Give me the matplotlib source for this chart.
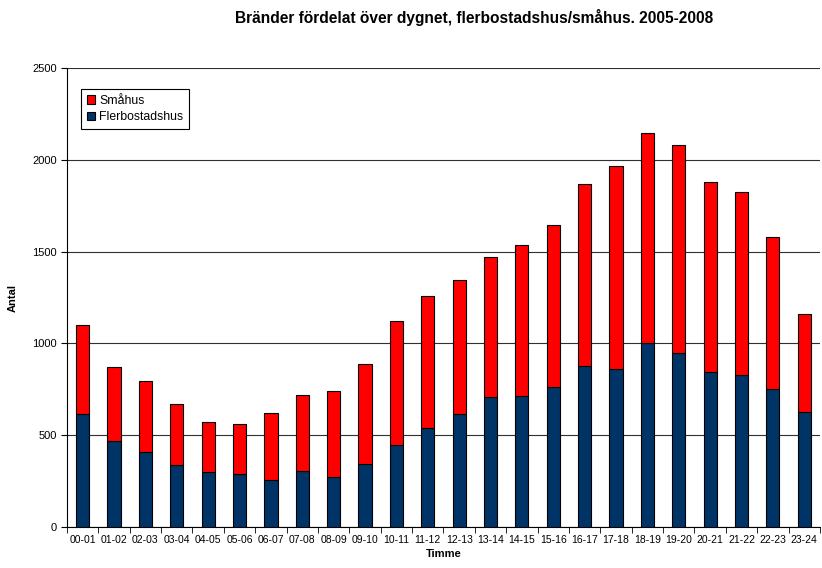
import numpy as np
import matplotlib.pyplot as plt

plt.rcParams['font.family'] = ['Liberation Sans', 'DejaVu Sans']

timmar = ["00-01", "01-02", "02-03", "03-04", "04-05", "05-06", "06-07", "07-08",
          "08-09", "09-10", "10-11", "11-12", "12-13", "13-14", "14-15", "15-16",
          "16-17", "17-18", "18-19", "19-20", "20-21", "21-22", "22-23", "23-24"]
flerbostadshus = [614, 470, 410, 339, 300, 289, 254, 305, 271, 343, 447, 541,
                  614, 708, 714, 765, 875, 859, 1002, 950, 844, 828, 750, 625]
totalt = [1098, 870, 795, 672, 572, 563, 621, 719, 742, 888, 1124, 1260,
          1347, 1469, 1536, 1645, 1867, 1964, 2144, 2081, 1879, 1823, 1581, 1162]
smahus = [t - f for t, f in zip(totalt, flerbostadshus)]

fig = plt.figure(figsize=(8.22, 5.68), dpi=100)
ax = fig.add_axes([0.0815, 0.0722, 0.916, 0.808])

x = np.arange(len(timmar))
ax.bar(x, flerbostadshus, width=0.42, color="#003366", edgecolor="black", linewidth=0.8,
       label="Flerbostadshus", zorder=3)
ax.bar(x, smahus, width=0.42, bottom=flerbostadshus, color="#ff0000", edgecolor="black",
       linewidth=0.8, label="Småhus", zorder=3)

ax.set_xlim(-0.5, len(timmar) - 0.5)
ax.set_ylim(0, 2500)
ax.set_yticks(range(0, 2501, 500))
ax.yaxis.grid(True, color="#303030", linewidth=0.8, zorder=0)
ax.set_xticks(x)
ax.set_xticklabels(timmar, fontsize=7.5)
ax.set_xticks(np.arange(-0.5, len(timmar), 1), minor=True)
ax.tick_params(axis="x", which="major", length=0, pad=6)
ax.tick_params(axis="x", which="minor", length=4, direction="out")
ax.tick_params(axis="y", labelsize=8, length=4, direction="out")
for s in ["top", "right"]:
    ax.spines[s].set_visible(False)

ax.set_xlabel("Timme", fontsize=8, fontweight="bold", labelpad=3)
ax.set_ylabel("Antal", fontsize=8, fontweight="bold", labelpad=10)

h, l = ax.get_legend_handles_labels()
leg = ax.legend(h[::-1], l[::-1], loc="upper left", bbox_to_anchor=(0.011, 0.967),
                fontsize=8.8, fancybox=False, edgecolor="black", framealpha=1,
                handlelength=0.7, handleheight=0.7, handletextpad=0.3,
                borderpad=0.45, labelspacing=0.35)
leg.get_frame().set_linewidth(0.8)

fig.text(474 / 822, 1 - 18 / 568, "Bränder fördelat över dygnet, flerbostadshus/småhus. 2005-2008",
         ha="center", va="center", fontsize=11.2, fontweight="bold")

plt.savefig("out.png", dpi=100)
